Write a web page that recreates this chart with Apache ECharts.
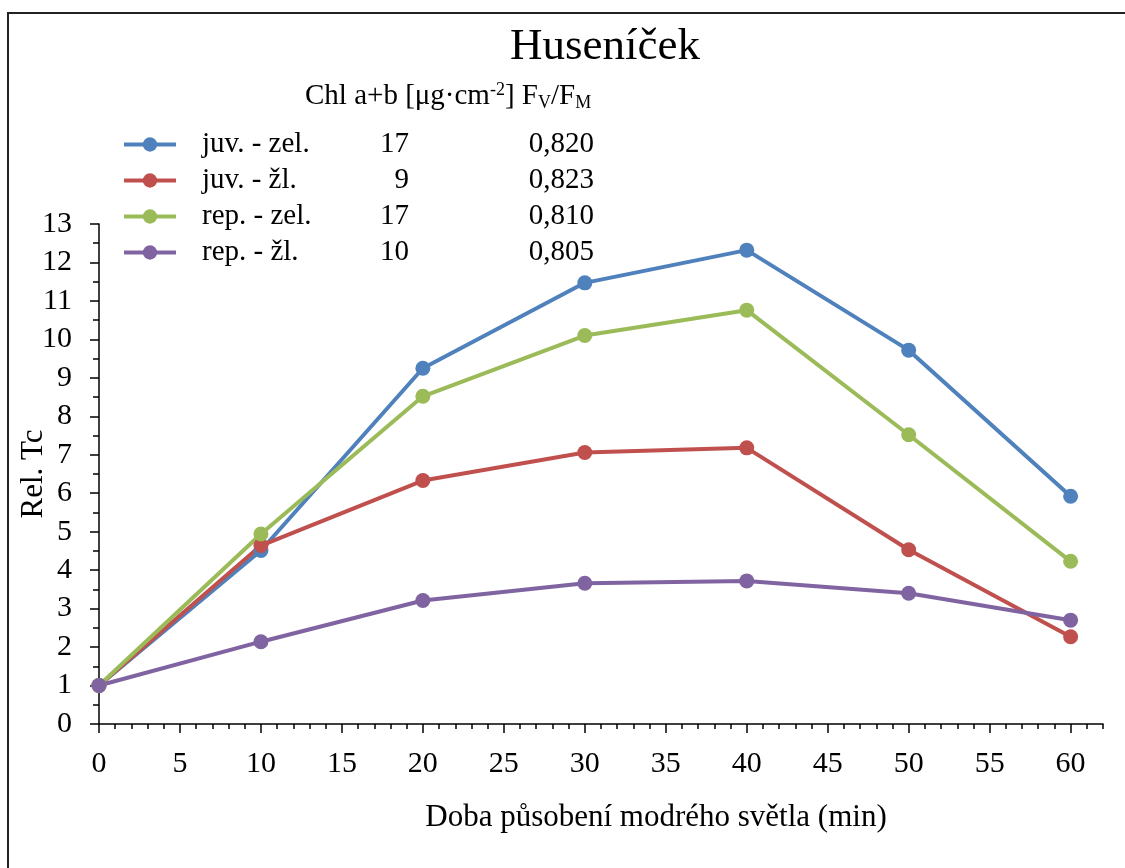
<!DOCTYPE html>
<html>
<head>
<meta charset="utf-8">
<script src="https://cdn.jsdelivr.net/npm/echarts@6/dist/echarts.min.js"></script>
<style>
html,body{margin:0;padding:0;background:#fff;}
#c{width:1125px;height:868px;}
</style>
</head>
<body>
<div id="c"></div>
<script>
// ---- data ----
const times = [0, 10, 20, 30, 40, 50, 60];
const seriesNames = ['juv. - zel.', 'juv. - žl.', 'rep. - zel.', 'rep. - žl.'];
const chlValues = ['17', '9', '17', '10'];
const fvfmValues = ['0,820', '0,823', '0,810', '0,805'];
const juvZel = [1, 4.51, 9.25, 11.47, 12.32, 9.72, 5.92];
const juvZl  = [1, 4.64, 6.33, 7.06, 7.18, 4.53, 2.27];
const repZel = [1, 4.94, 8.52, 10.10, 10.76, 7.52, 4.23];
const repZl  = [1, 2.14, 3.21, 3.66, 3.72, 3.40, 2.70];
const xTickLabels = [0, 5, 10, 15, 20, 25, 30, 35, 40, 45, 50, 55, 60];
const colors = ['#4F81BD', '#C0504D', '#9BBB59', '#8064A2'];
const titleText = 'Huseníček';
const xName = 'Doba působení modrého světla (min)';
const yName = 'Rel. Tc';

const FONT = '"Liberation Serif", "Times New Roman", serif';
const allData = [juvZel, juvZl, repZel, repZl];

const chart = echarts.init(document.getElementById('c'), null, {renderer: 'canvas'});

const series = allData.map((vals, i) => ({
  name: seriesNames[i],
  type: 'line',
  xAxisIndex: 0,
  data: times.map((t, k) => [t, vals[k]]),
  symbol: 'circle',
  symbolSize: 15,
  color: colors[i],
  lineStyle: {width: 4, color: colors[i]},
  itemStyle: {color: colors[i]},
  emphasis: {disabled: true},
  animation: false
}));

const legendLookup = {};
seriesNames.forEach((n, i) => legendLookup[n] = i);

const LF = 29;

chart.setOption({
  backgroundColor: '#fff',
  title: {
    text: titleText,
    left: 600,
    textAlign: 'center',
    top: 20,
    textStyle: {fontFamily: FONT, fontSize: 45, fontWeight: 'normal', color: '#000'}
  },
  legend: {
    orient: 'vertical',
    left: 117,
    top: 125,
    itemWidth: 52,
    itemHeight: 18,
    itemGap: 7,
    lineStyle: {width: 4},
    data: seriesNames,
    formatter: function (name) {
      const i = legendLookup[name];
      return '{a|' + name + '}{b|' + chlValues[i] + '}{c|' + fvfmValues[i] + '}';
    },
    textStyle: {
      fontFamily: FONT, fontSize: LF, color: '#000',
      rich: {
        a: {fontFamily: FONT, fontSize: LF, color: '#000', width: 150, padding: [0, 0, 0, 21], lineHeight: 29},
        b: {fontFamily: FONT, fontSize: LF, color: '#000', width: 57, align: 'right', lineHeight: 29},
        c: {fontFamily: FONT, fontSize: LF, color: '#000', width: 185, align: 'right', lineHeight: 29}
      }
    }
  },
  grid: {left: 99, right: 22, top: 224, bottom: 144, containLabel: false, outerBoundsMode: 'none'},
  xAxis: [{
    type: 'value',
    min: 0, max: 62, interval: 5,
    position: 'bottom',
    axisLine: {show: true, lineStyle: {color: '#000', width: 1.5}},
    axisTick: {show: true, length: 9, customValues: xTickLabels, lineStyle: {color: '#000', width: 1.5}},
    axisLabel: {show: true, customValues: xTickLabels, margin: 25, fontFamily: FONT, fontSize: 30, color: '#000'},
    splitLine: {show: false}
  }, {
    type: 'value',
    min: 0, max: 62, interval: 1,
    position: 'bottom',
    offset: 0,
    axisLine: {show: false},
    axisTick: {show: true, length: 5, lineStyle: {color: '#000', width: 1.5}},
    axisLabel: {show: false},
    splitLine: {show: false}
  }],
  yAxis: {
    type: 'value',
    min: 0, max: 13, interval: 1,
    name: yName,
    nameLocation: 'middle',
    nameRotate: 90,
    nameGap: 50,
    nameMoveOverlap: false,
    nameTextStyle: {fontFamily: FONT, fontSize: 31, color: '#000'},
    axisLine: {show: true, lineStyle: {color: '#000', width: 1.5}},
    axisTick: {show: true, length: 9, lineStyle: {color: '#000', width: 1.5}},
    minorTick: {show: true, splitNumber: 2, length: 6, lineStyle: {color: '#000', width: 1.5}},
    axisLabel: {margin: 27, fontFamily: FONT, fontSize: 30, color: '#000'},
    splitLine: {show: false}
  },
  graphic: [
    {
      type: 'rect',
      shape: {x: 8, y: 13, width: 1200, height: 1000},
      style: {fill: 'none', stroke: '#222', lineWidth: 2},
      silent: true, z: -1
    },
    {
      type: 'text',
      left: 305, top: 81,
      style: {
        text: 'Chl a+b [μg·cm{sup|-2}] F{sub|V}/F{sub|M}',
        fontFamily: FONT, fontSize: LF, fill: '#000',
        rich: {
          sup: {fontFamily: FONT, fontSize: 18, verticalAlign: 'top', padding: [0, 0, 11, 0]},
          sub: {fontFamily: FONT, fontSize: 18, padding: [13, 0, 0, 0]}
        }
      }
    },
    {
      type: 'text',
      x: 656, y: 818,
      style: {
        text: xName,
        fontFamily: FONT, fontSize: 31, fill: '#000',
        align: 'center', verticalAlign: 'middle'
      }
    }
  ],
  series: series,
  animation: false
});
</script>
</body>
</html>
